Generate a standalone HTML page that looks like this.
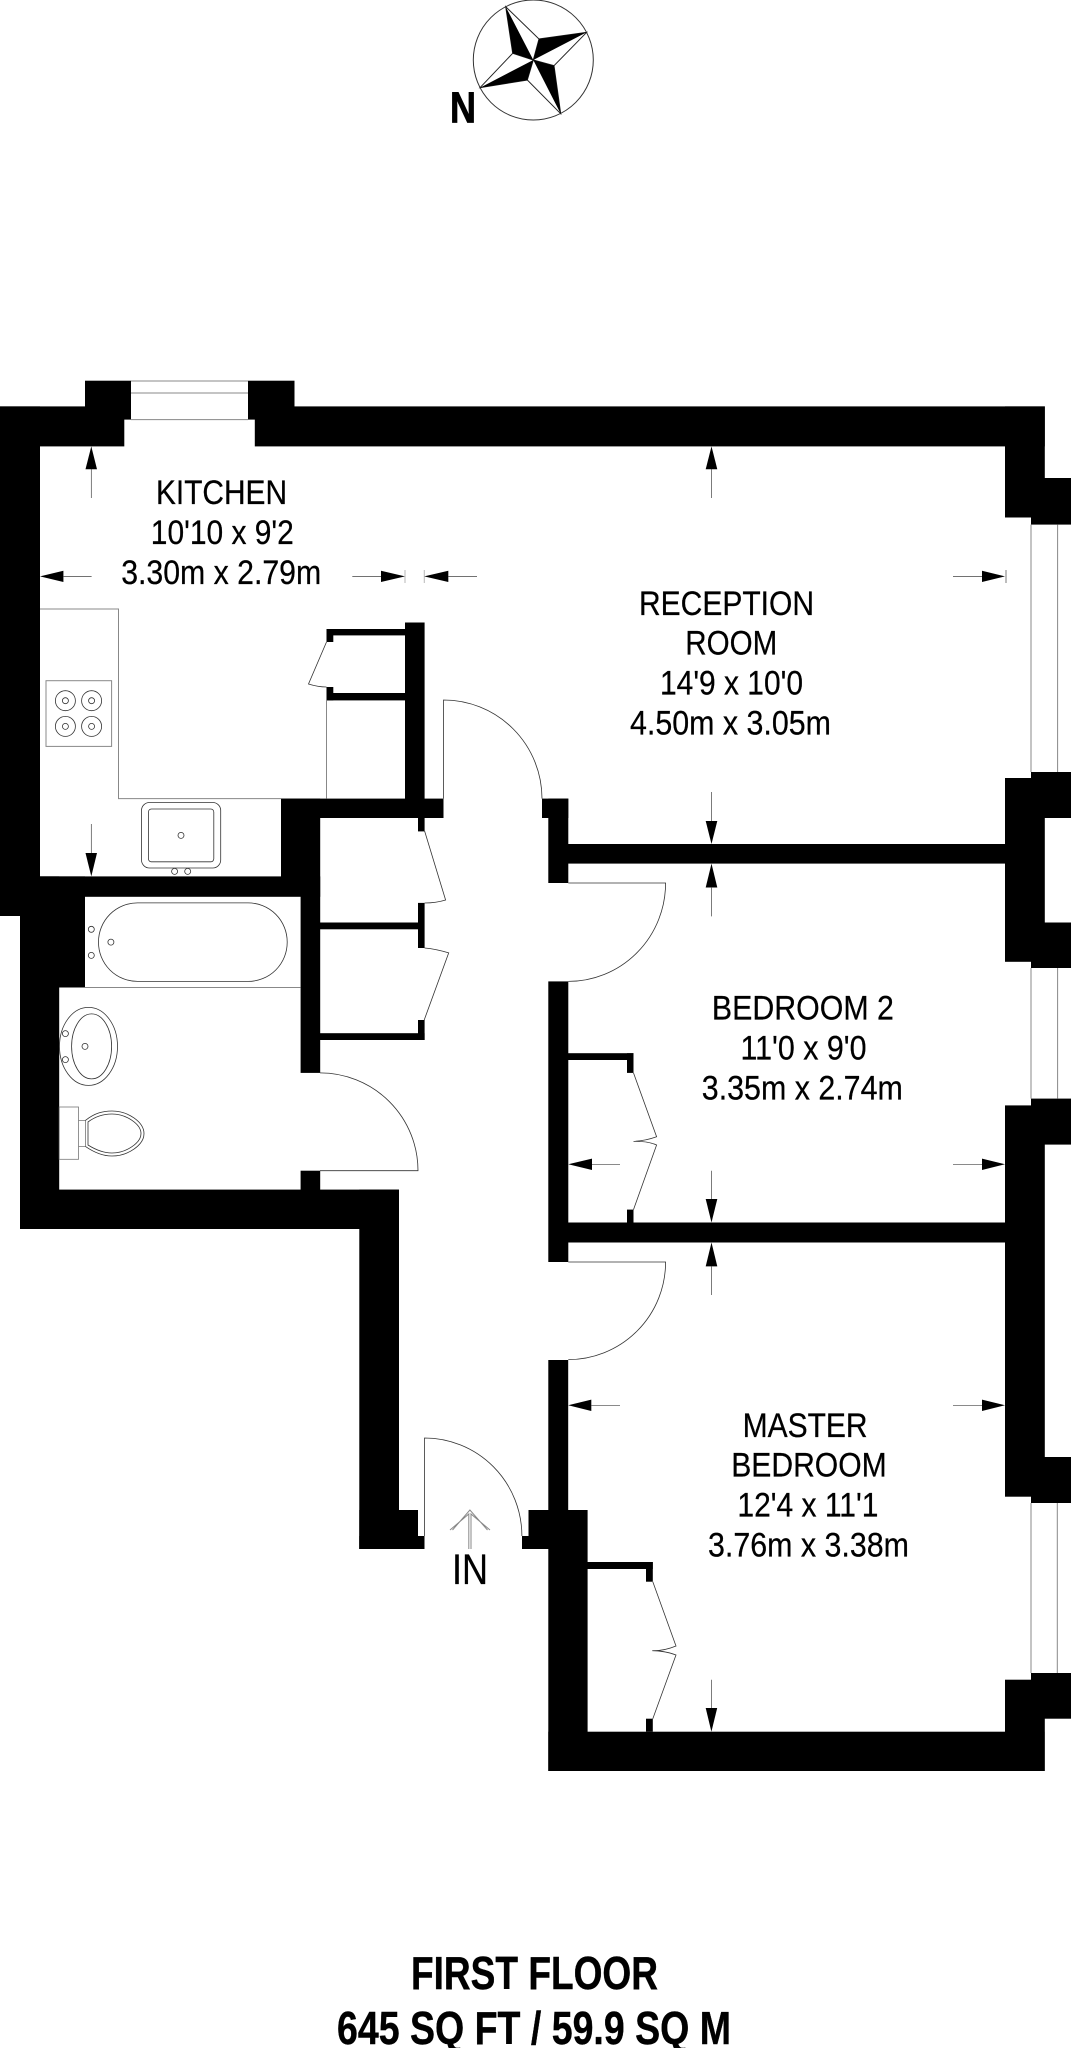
<!DOCTYPE html>
<html><head><meta charset="utf-8"><style>
html,body{margin:0;padding:0;background:#fff}
svg{display:block}
text{font-family:"Liberation Sans",sans-serif;font-size:34.5px;fill:#000;stroke:#000;stroke-width:.25}
.b{font-weight:bold;font-size:46px;stroke-width:.4}
.l{fill:none;stroke:#333;stroke-width:.8}
.g{fill:none;stroke:#888;stroke-width:1}
.a{fill:none;stroke:#444;stroke-width:.7}
</style></head><body>
<svg width="1071" height="2048" viewBox="0 0 1071 2048" xmlns="http://www.w3.org/2000/svg">
<rect width="1071" height="2048" fill="#fff"/>
<!-- compass -->
<circle cx="533.3" cy="60" r="60" fill="none" stroke="#333" stroke-width="1"/>
<path d="M505.7 6.7L539 39L533.3 60L512.7 53.3ZM586.7 32.3L554 65.7L533.3 60L539 39ZM560.7 113.7L527.3 80L533.3 60L554 65.7ZM480 87.7L512.7 53.3L533.3 60L527.3 80Z" fill="#fff" stroke="#222" stroke-width="1"/>
<path d="M505.7 6.7L512.7 53.3L533.3 60ZM586.7 32.3L539 39L533.3 60ZM560.7 113.7L554 65.7L533.3 60ZM480 87.7L527.3 80L533.3 60Z" fill="#000"/>
<text x="450" y="122.3" textLength="26" lengthAdjust="spacingAndGlyphs" class="b" style="font-size:44px;stroke-width:.8">N</text>
<!-- walls -->
<g fill="#000">
<rect x="0" y="406.4" width="124.3" height="40"/>
<rect x="254.8" y="406.4" width="790" height="40"/>
<rect x="85" y="380.7" width="46" height="38.9"/>
<rect x="248" y="380.7" width="46.5" height="38.9"/>
<rect x="0" y="406.4" width="40" height="509.6"/>
<rect x="0" y="876.4" width="281" height="20.4"/>
<rect x="20" y="876.4" width="65" height="111.1"/>
<rect x="20" y="876.4" width="39.2" height="352.6"/>
<rect x="20" y="1189.6" width="378.8" height="39.4"/>
<rect x="359.3" y="1189.6" width="39.7" height="359.4"/>
<rect x="359.3" y="1510" width="58.7" height="39"/>
<rect x="359.3" y="1536" width="65.2" height="13"/>
<rect x="522" y="1536" width="30" height="13"/>
<rect x="528.5" y="1510" width="30" height="39"/>
<rect x="548.3" y="1360" width="19.9" height="151"/>
<rect x="548.3" y="1510" width="39.3" height="261"/>
<rect x="548.3" y="1731.7" width="496.3" height="39.3"/>
<!-- right wall + window bumps -->
<rect x="1005" y="406.4" width="39.8" height="90"/>
<rect x="1005" y="478" width="26" height="39.5"/>
<rect x="1031" y="478" width="40" height="46.6"/>
<rect x="1031" y="772" width="40" height="46"/>
<rect x="1005" y="778" width="39.8" height="183.8"/>
<rect x="1031" y="922.5" width="40" height="45.5"/>
<rect x="1031" y="1098.6" width="40" height="46"/>
<rect x="1005" y="1105.4" width="39.8" height="391.3"/>
<rect x="1031" y="1457" width="40" height="46"/>
<rect x="1031" y="1673" width="40" height="45.7"/>
<rect x="1005" y="1679.7" width="39.8" height="91.3"/>
<!-- kitchen/hall internal -->
<rect x="405" y="622.5" width="19.6" height="195.5"/>
<rect x="281" y="798.6" width="162.5" height="19.4"/>
<rect x="281" y="798.6" width="39.2" height="98.2"/>
<rect x="300.6" y="876.4" width="19.6" height="196.5"/>
<rect x="300.6" y="1170.7" width="19.6" height="20"/>
<rect x="326.5" y="629" width="78.5" height="6.4"/>
<rect x="326.5" y="629" width="6.8" height="13"/>
<rect x="326.5" y="687" width="6.8" height="13.4"/>
<rect x="326.5" y="693" width="78.5" height="7.4"/>
<rect x="418" y="818" width="6.6" height="13.4"/>
<rect x="418" y="902.9" width="6.6" height="45.1"/>
<rect x="320" y="922.5" width="98" height="6.8"/>
<rect x="418" y="1020" width="6.6" height="20"/>
<rect x="320" y="1033.2" width="104.6" height="6.8"/>
<!-- reception/bedroom walls -->
<rect x="542" y="798.6" width="26.3" height="19.4"/>
<rect x="548.3" y="798.6" width="20" height="84.4"/>
<rect x="568" y="844" width="437" height="19.6"/>
<rect x="548.3" y="981.4" width="20" height="280.6"/>
<rect x="568" y="1222.5" width="437" height="20"/>
<!-- wardrobes -->
<rect x="568" y="1053.2" width="65.5" height="6.8"/>
<rect x="627" y="1053.2" width="6.5" height="19.7"/>
<rect x="627" y="1209.6" width="6.5" height="13"/>
<rect x="587" y="1562" width="65.8" height="7"/>
<rect x="646" y="1562" width="6.8" height="19.7"/>
<rect x="646" y="1718.7" width="6.8" height="13"/>
</g>
<!-- windows -->
<g class="g">
<path d="M131 381H248M131 393H248M131 419.6H248"/>
<path d="M1031 524.6V772M1057.6 524.6V772"/>
<path d="M1031 968V1098.6M1057.6 968V1098.6"/>
<path d="M1031 1503V1673M1057.3 1503V1673"/>
</g>
<!-- doors -->
<g class="l">
<path d="M443.5 798.6V700A98.5 98.6 0 0 1 542 798.6"/>
<path d="M320 1072.9A98 97.8 0 0 1 418 1170.7H320"/>
<path d="M568.3 883H665.6A97.3 98.4 0 0 1 568.3 981.4"/>
<path d="M568.3 1262H665.6A97.3 97.6 0 0 1 568.3 1359.6"/>
<path d="M424.5 1536V1438A97.4 98 0 0 1 521.9 1536"/>
<path d="M326.5 642L308.5 684Q318 687 326.5 687"/>
<path d="M424.6 831L445.6 900Q436 903 424.6 903"/>
<path d="M424.6 948Q436 949 448.7 952.9L424.2 1020"/>
<path d="M633.5 1072.9L656.6 1136.8Q645 1141 633.5 1141.4Q648 1141 656.6 1145L633.5 1209.6"/>
<path d="M652.8 1581.7L676 1646Q664 1651 652.3 1650.7Q666 1651 676 1655L652.8 1718.7"/>
</g>
<!-- kitchen fittings -->
<g class="g">
<path d="M40 609H118.5V798.6H281"/>
<path d="M326.5 700V798.6"/>
<rect x="46" y="680.7" width="65.6" height="65.7"/>
<path d="M85 987.5H300.6"/>
</g>
<g class="l">
<circle cx="65.4" cy="700.7" r="10"/><circle cx="65.4" cy="700.7" r="3"/>
<circle cx="91.6" cy="700.7" r="10"/><circle cx="91.6" cy="700.7" r="3"/>
<circle cx="65.4" cy="726.4" r="10"/><circle cx="65.4" cy="726.4" r="3"/>
<circle cx="91.6" cy="726.4" r="10"/><circle cx="91.6" cy="726.4" r="3"/>
<rect x="141.5" y="802.5" width="79.2" height="65.5" rx="8"/>
<rect x="148.4" y="809" width="65.4" height="52.8" rx="3"/>
<circle cx="181" cy="835.4" r="3"/><circle cx="174.6" cy="871.4" r="3"/><circle cx="187.7" cy="871.4" r="3"/>
<!-- bath -->
<rect x="98.5" y="902.9" width="188.7" height="78.5" rx="39" ry="39"/>
<circle cx="91.3" cy="929.3" r="3"/><circle cx="91.3" cy="955.4" r="3"/><circle cx="110.9" cy="942.1" r="3"/>
<!-- basin -->
<ellipse cx="88.5" cy="1046.4" rx="29" ry="39"/>
<ellipse cx="91.6" cy="1046.4" rx="20" ry="32.5"/>
<circle cx="65.4" cy="1033.6" r="3"/><circle cx="65.4" cy="1059.6" r="3"/><circle cx="85" cy="1046.4" r="3"/>
<!-- toilet -->
<rect x="59.2" y="1107" width="19.3" height="52.3" stroke="#777"/>
<path d="M78.5 1120.4H85.4V1146.4H78.5" stroke="#777"/>
<path d="M85.4 1120.4C95 1113 103 1111 112 1111C128 1111 144 1122 144 1133.6C144 1145 128 1156 112 1156C103 1156 95 1153 85.4 1146.4"/>
<path d="M88 1122C96 1116 104 1114 112 1114C126 1114 141 1124 141 1133.6C141 1143 126 1153 112 1153C104 1153 96 1150 88 1145Z"/>
</g>
<!-- dimension arrows -->
<g fill="#000">
<path d="M91.3 446.4L85.5 469.3H97Z"/>
<path d="M91.3 876.4L85.5 853H97Z"/>
<path d="M40 576.4L63.4 570.7V582Z"/>
<path d="M405 576.4L381 570.7V582Z"/>
<path d="M424.2 576.4L448.3 570.7V582Z"/>
<path d="M711.5 446.4L705.7 469.3H717.3Z"/>
<path d="M711.5 844L705.7 821H717.3Z"/>
<path d="M711.5 863.6L705.7 887.5H717.3Z"/>
<path d="M1005 576.4L982 570.7V582Z"/>
<path d="M568.3 1164.3L592 1158.6V1170Z"/>
<path d="M1005 1164.3L982 1158.6V1170Z"/>
<path d="M711.5 1222.5L705.7 1199H717.3Z"/>
<path d="M711.5 1242.5L705.7 1266.4H717.3Z"/>
<path d="M568.2 1405.3L591.3 1399.6V1411Z"/>
<path d="M1005 1405.3L982 1399.6V1411Z"/>
<path d="M711.4 1731.7L705.7 1708H717.2Z"/>
</g>
<g class="a">
<path d="M91.3 469V498M91.3 824V853"/>
<path d="M63 576.4H91.6M352.3 576.4H381M448 576.4H477"/>
<path d="M405 570V583M424.2 570V583" stroke="#999"/>
<path d="M711.5 469V498M711.5 792V821M711.5 887V916.4"/>
<path d="M953 576.4H982M1006 570V583"/>
<path d="M592 1164.3H620M953 1164.3H982"/>
<path d="M711.5 1170.7V1199M711.5 1266V1295"/>
<path d="M591 1405.3H620M953 1405.3H982"/>
<path d="M711.4 1679.7V1708"/>
</g>
<!-- IN arrow -->
<g class="g" stroke-width=".8">
<path d="M468.8 1549V1514L450 1530M471 1549V1514L490 1530M452.5 1530L469.9 1510L487.5 1530"/>
</g>
<!-- labels -->
<text x="156" y="504" textLength="131" lengthAdjust="spacingAndGlyphs">KITCHEN</text>
<text x="150.8" y="544" textLength="143" lengthAdjust="spacingAndGlyphs">10'10 x 9'2</text>
<text x="121.2" y="584" textLength="200" lengthAdjust="spacingAndGlyphs">3.30m x 2.79m</text>
<text x="639" y="615" textLength="175" lengthAdjust="spacingAndGlyphs">RECEPTION</text>
<text x="685.3" y="654.6" textLength="92" lengthAdjust="spacingAndGlyphs">ROOM</text>
<text x="660" y="694.3" textLength="143" lengthAdjust="spacingAndGlyphs">14'9 x 10'0</text>
<text x="630" y="734.3" textLength="201" lengthAdjust="spacingAndGlyphs">4.50m x 3.05m</text>
<text x="711.9" y="1019.6" textLength="182" lengthAdjust="spacingAndGlyphs">BEDROOM 2</text>
<text x="740.5" y="1059.3" textLength="126" lengthAdjust="spacingAndGlyphs">11'0 x 9'0</text>
<text x="701.8" y="1099.3" textLength="201" lengthAdjust="spacingAndGlyphs">3.35m x 2.74m</text>
<text x="742.6" y="1437" textLength="125" lengthAdjust="spacingAndGlyphs">MASTER</text>
<text x="731.2" y="1476.7" textLength="155.5" lengthAdjust="spacingAndGlyphs">BEDROOM</text>
<text x="737.4" y="1516.7" textLength="141" lengthAdjust="spacingAndGlyphs">12'4 x 11'1</text>
<text x="708" y="1556.7" textLength="201" lengthAdjust="spacingAndGlyphs">3.76m x 3.38m</text>
<text x="452" y="1584" textLength="36" lengthAdjust="spacingAndGlyphs" style="font-size:43px">IN</text>
<text x="411" y="1989" textLength="247" lengthAdjust="spacingAndGlyphs" class="b">FIRST FLOOR</text>
<text x="337" y="2044" textLength="394" lengthAdjust="spacingAndGlyphs" class="b">645 SQ FT / 59.9 SQ M</text>
</svg>
</body></html>
